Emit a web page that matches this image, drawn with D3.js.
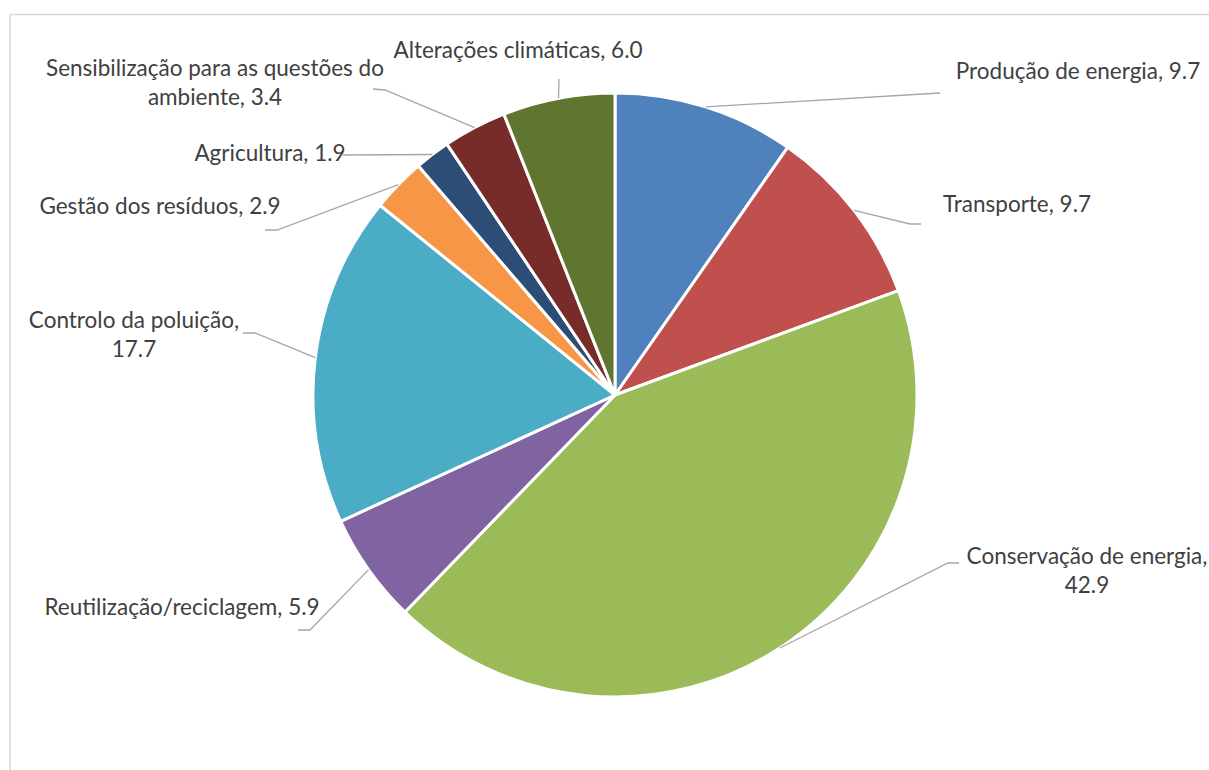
<!DOCTYPE html>
<html>
<head>
<meta charset="utf-8">
<script src="https://cdn.jsdelivr.net/npm/d3@7"></script>
<style>
  body { margin: 0; background: #fff; }
  svg { display: block; }
  .lbl { font-family: Lato, "Liberation Sans", sans-serif; font-size: 22.5px; fill: #404040; }
  .leader { fill: none; stroke: #a6a6a6; stroke-width: 1.3; }
</style>
</head>
<body>
<svg id="chart"></svg>
<script>
// data
const categories = ['Produção de energia', 'Transporte', 'Conservação de energia',
    'Reutilização/reciclagem', 'Controlo da poluição', 'Gestão dos resíduos',
    'Agricultura', 'Sensibilização para as questões do ambiente', 'Alterações climáticas'];
const values = [9.7, 9.7, 42.9, 5.9, 17.7, 2.9, 1.9, 3.4, 6.0];
const colors = ['#4f81bd', '#c0504d', '#9bbb59', '#8064a2', '#4bacc6',
    '#f79646', '#2c4d75', '#772c2a', '#5f7530'];

// label layout (Excel places these by hand): text lines, centre x, first baseline,
// and the bend points of the leader line after it leaves the slice
const labelLayout = [
    { lines: ['Produção de energia, 9.7'], x: 1078, y: 79, bend: [[940, 93]] },
    { lines: ['Transporte, 9.7'], x: 1017, y: 212, bend: [[910, 224], [921, 224]] },
    { lines: ['Conservação de energia,', '42.9'], x: 1087, y: 564, bend: [[948, 563], [959, 563]] },
    { lines: ['Reutilização/reciclagem, 5.9'], x: 182, y: 615, bend: [[310, 630], [298, 630]] },
    { lines: ['Controlo da poluição,', '17.7'], x: 134, y: 328, bend: [[255, 333], [243, 333]] },
    { lines: ['Gestão dos resíduos, 2.9'], x: 160, y: 214, bend: [[277, 230], [265, 230]] },
    { lines: ['Agricultura, 1.9'], x: 270, y: 161, bend: [[343, 155]] },
    { lines: ['Sensibilização para as questões do', 'ambiente, 3.4'], x: 215, y: 76, bend: [[385, 90], [373, 89]] },
    { lines: ['Alterações climáticas, 6.0'], x: 518, y: 58, bend: [[559, 79]] }
];

const width = 1209, height = 770;
const cx = 615, cy = 395, radius = 302;

const svg = d3.select('#chart').attr('width', width).attr('height', height);

// chart area border
svg.append('rect')
    .attr('x', 10).attr('y', 14.5)
    .attr('width', width + 20).attr('height', height + 20)
    .attr('fill', '#fff')
    .attr('stroke', '#d9d9d9')
    .attr('stroke-width', 1.5);

const pie = d3.pie().sort(null).value(d => d.value);
const arcs = pie(values.map((v, i) => ({ name: categories[i], value: v, color: colors[i] })));
const arc = d3.arc().innerRadius(0).outerRadius(radius);

const g = svg.append('g').attr('transform', `translate(${cx},${cy})`);

g.selectAll('path.slice')
    .data(arcs)
    .join('path')
    .attr('class', 'slice')
    .attr('d', arc)
    .attr('fill', d => d.data.color)
    .attr('stroke', '#fff')
    .attr('stroke-width', 3)
    .attr('stroke-linejoin', 'round');

// leader lines start on the rim at the slice's mid angle
const line = d3.line();
svg.selectAll('path.leader')
    .data(arcs)
    .join('path')
    .attr('class', 'leader')
    .attr('d', (d, i) => {
        let a = (d.startAngle + d.endAngle) / 2;
        let start = [cx + radius * Math.sin(a), cy - radius * Math.cos(a)];
        return line([start].concat(labelLayout[i].bend));
    });

const labels = svg.selectAll('text.lbl')
    .data(arcs)
    .join('text')
    .attr('class', 'lbl')
    .attr('text-anchor', 'middle')
    .attr('x', (d, i) => labelLayout[i].x)
    .attr('y', (d, i) => labelLayout[i].y);

labels.each(function(d, i) {
    let t = d3.select(this);
    labelLayout[i].lines.forEach((s, k) => {
        t.append('tspan')
            .attr('x', labelLayout[i].x)
            .attr('dy', k === 0 ? 0 : 29)
            .text(s);
    });
});
</script>
</body>
</html>
